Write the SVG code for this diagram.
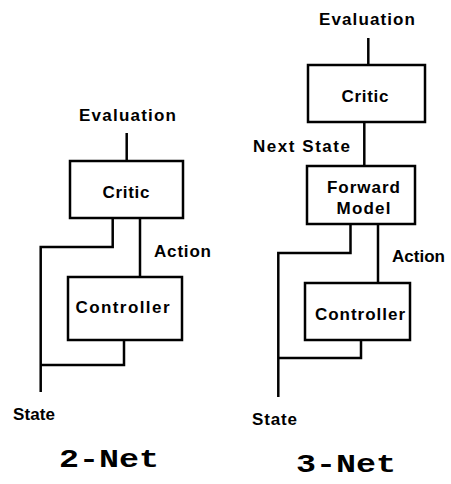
<svg xmlns="http://www.w3.org/2000/svg" width="451" height="484" viewBox="0 0 451 484">
  <style>
    .box { fill: #fff; stroke: #000; stroke-width: 2.5; }
    .wire { fill: none; stroke: #000; stroke-width: 2.5; stroke-linejoin: miter; }
    .lbl { font-family: "Liberation Sans", Arial, sans-serif; font-weight: bold; font-size: 17px; fill: #000; }
    .ttl { font-family: "Liberation Mono", "Courier New", monospace; font-weight: bold; font-size: 26px; fill: #000; }
  </style>
  <rect width="451" height="484" fill="#fff"/>

  <!-- Connectors -->
  <g id="connectors">
    <!-- 2-Net -->
    <path class="wire" d="M126.7 133 V161"/>
    <path class="wire" d="M112.7 218 V247 H40.7 V392"/>
    <path class="wire" d="M140 218 V277"/>
    <path class="wire" d="M124 340 V365 H40.7"/>
    <!-- 3-Net -->
    <path class="wire" d="M368.3 38 V65"/>
    <path class="wire" d="M364.3 122 V167"/>
    <path class="wire" d="M350.5 224 V253 H278.3 V397"/>
    <path class="wire" d="M378 224 V283"/>
    <path class="wire" d="M361 340 V358 H278.3"/>
  </g>

  <!-- 2-Net nodes -->
  <g id="net2-critic">
    <rect class="box" x="70" y="161" width="113" height="57"/>
    <text class="lbl" x="126" y="198" text-anchor="middle" textLength="47">Critic</text>
  </g>
  <g id="net2-controller">
    <rect class="box" x="68" y="277" width="114" height="63"/>
    <text class="lbl" x="122.5" y="313" text-anchor="middle" textLength="94">Controller</text>
  </g>
  <g id="net2-labels">
    <text class="lbl" x="79" y="121" textLength="97">Evaluation</text>
    <text class="lbl" x="154" y="257" textLength="57">Action</text>
    <text class="lbl" x="13" y="420" textLength="42">State</text>
    <text class="ttl" x="59" y="467" textLength="100" lengthAdjust="spacingAndGlyphs">2-Net</text>
  </g>

  <!-- 3-Net nodes -->
  <g id="net3-critic">
    <rect class="box" x="308" y="65" width="117" height="57"/>
    <text class="lbl" x="365" y="102" text-anchor="middle" textLength="47">Critic</text>
  </g>
  <g id="net3-forward-model">
    <rect class="box" x="307" y="166" width="108" height="58"/>
    <text class="lbl" x="363.5" y="193" text-anchor="middle" textLength="73">Forward</text>
    <text class="lbl" x="363.5" y="214" text-anchor="middle" textLength="54">Model</text>
  </g>
  <g id="net3-controller">
    <rect class="box" x="305" y="283" width="105" height="57"/>
    <text class="lbl" x="360" y="320" text-anchor="middle" textLength="90">Controller</text>
  </g>
  <g id="net3-labels">
    <text class="lbl" x="319" y="25" textLength="96">Evaluation</text>
    <text class="lbl" x="253" y="152" textLength="97">Next State</text>
    <text class="lbl" x="392" y="262" textLength="53">Action</text>
    <text class="lbl" x="252" y="425" textLength="45">State</text>
    <text class="ttl" x="296" y="472" textLength="100" lengthAdjust="spacingAndGlyphs">3-Net</text>
  </g>
</svg>
